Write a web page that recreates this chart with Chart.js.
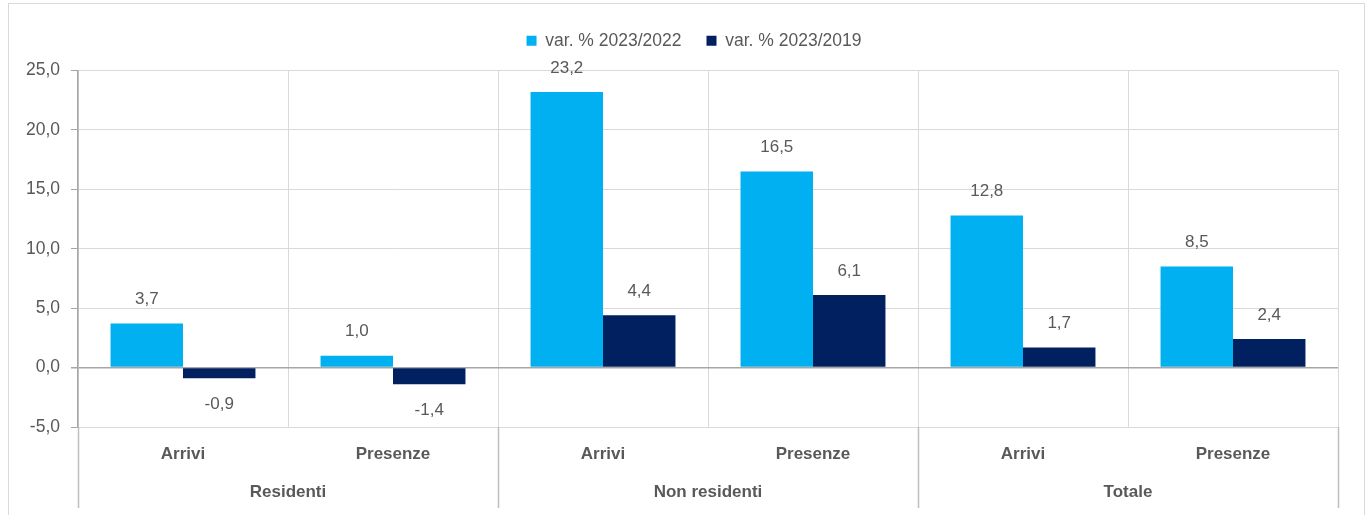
<!DOCTYPE html>
<html>
<head>
<meta charset="utf-8">
<script src="https://cdn.jsdelivr.net/npm/chart.js@4/dist/chart.umd.min.js"></script>
<style>
  html, body { margin: 0; padding: 0; background: #fff; }
  #wrap { position: relative; width: 1370px; height: 515px; }
</style>
</head>
<body>
<div id="wrap"><canvas id="chart" width="1370" height="515"></canvas></div>
<script>
// data
const categories = ["Arrivi", "Presenze", "Arrivi", "Presenze", "Arrivi", "Presenze"];
const groups = ["Residenti", "Non residenti", "Totale"];
const var2022 = [3.7, 1.0, 23.2, 16.5, 12.8, 8.5];
const var2019 = [-0.9, -1.4, 4.4, 6.1, 1.7, 2.4];
const yTicks = [-5, 0, 5, 10, 15, 20, 25];

const textColor = "#595959";
const fontFamily = "'Liberation Sans', Arial, sans-serif";
const fmt = (v) => v.toFixed(1).replace(".", ",");

// outer frame
const framePlugin = {
  id: "frame",
  beforeDraw(chart) {
    const ctx = chart.ctx;
    ctx.save();
    ctx.strokeStyle = "#d9d9d9";
    ctx.lineWidth = 1;
    ctx.strokeRect(8.5, 3.5, 1356, 520);
    ctx.restore();
  },
};

// legend: a bit more room below, nudged right like the original
const legendSpace = {
  id: "legendSpace",
  afterInit(chart) {
    const legend = chart.legend;
    if (!legend) return;
    const fit = legend.fit;
    legend.fit = function () {
      fit.call(this);
      this.height += 11;
      if (this.lineWidths) this.lineWidths = this.lineWidths.map((w) => w - 50);
    };
  },
};

// value labels above / below bars
const valueLabels = {
  id: "valueLabels",
  afterDatasetsDraw(chart) {
    const ctx = chart.ctx;
    ctx.save();
    ctx.font = "17px " + fontFamily;
    ctx.fillStyle = textColor;
    ctx.textAlign = "center";
    ctx.textBaseline = "middle";
    chart.data.datasets.forEach((ds, i) => {
      chart.getDatasetMeta(i).data.forEach((bar, j) => {
        const v = ds.data[j];
        const y = v >= 0 ? bar.y - 24 : bar.y + 26;
        ctx.fillText(fmt(v), bar.x, y);
      });
    });
    ctx.restore();
  },
};

// group labels and separators under the x axis
const groupAxis = {
  id: "groupAxis",
  afterDraw(chart) {
    const ctx = chart.ctx;
    const area = chart.chartArea;
    const perGroup = categories.length / groups.length;
    const step = (area.right - area.left) / categories.length;
    ctx.save();
    ctx.strokeStyle = "#bfbfbf";
    ctx.lineWidth = 1.5;
    for (let g = 0; g <= groups.length; g++) {
      const px = Math.round(area.left + g * perGroup * step) + 0.5;
      ctx.beginPath();
      ctx.moveTo(px, area.bottom);
      ctx.lineTo(px, 508);
      ctx.stroke();
    }
    ctx.font = "bold 17px " + fontFamily;
    ctx.fillStyle = textColor;
    ctx.textAlign = "center";
    ctx.textBaseline = "middle";
    groups.forEach((name, g) => {
      const cx = area.left + (g + 0.5) * perGroup * step;
      ctx.fillText(name, cx, 492);
    });
    ctx.restore();
  },
};

new Chart(document.getElementById("chart"), {
  type: "bar",
  data: {
    labels: categories,
    datasets: [
      {
        label: "var. % 2023/2022",
        data: var2022,
        backgroundColor: "#00b0f0",
        categoryPercentage: 0.69,
        barPercentage: 1,
      },
      {
        label: "var. % 2023/2019",
        data: var2019,
        backgroundColor: "#002060",
        categoryPercentage: 0.69,
        barPercentage: 1,
      },
    ],
  },
  options: {
    responsive: false,
    animation: false,
    layout: { padding: { top: 7, right: 32, left: 0, bottom: 0 } },
    plugins: {
      legend: {
        position: "top",
        labels: {
          boxWidth: 10,
          boxHeight: 10,
          padding: 25,
          color: textColor,
          font: { size: 17.5, family: fontFamily },
        },
      },
      tooltip: { enabled: false },
    },
    scales: {
      x: {
        grid: {
          color: "#d9d9d9",
          drawTicks: false,
          offset: true,
        },
        border: { color: "#d9d9d9" },
        ticks: {
          color: textColor,
          padding: 17,
          font: { size: 17, weight: "bold", family: fontFamily },
        },
        afterFit(scale) {
          scale.height = 88;
        },
      },
      y: {
        min: -5,
        max: 25,
        afterBuildTicks(scale) {
          scale.ticks = yTicks.map((v) => ({ value: v }));
        },
        grid: {
          color: (c) => (c.tick && c.tick.value === 0 ? "#a6a6a6" : "#d9d9d9"),
          lineWidth: (c) => (c.tick && c.tick.value === 0 ? 1.5 : 1),
          tickColor: "#a6a6a6",
          tickLength: 7,
        },
        border: { color: "#a6a6a6", width: 1.5 },
        ticks: {
          color: textColor,
          padding: 11,
          font: { size: 17.5, family: fontFamily },
          callback: (v) => fmt(v),
        },
        afterFit(scale) {
          scale.width = 78;
        },
      },
    },
  },
  plugins: [framePlugin, legendSpace, valueLabels, groupAxis],
});
</script>
</body>
</html>
